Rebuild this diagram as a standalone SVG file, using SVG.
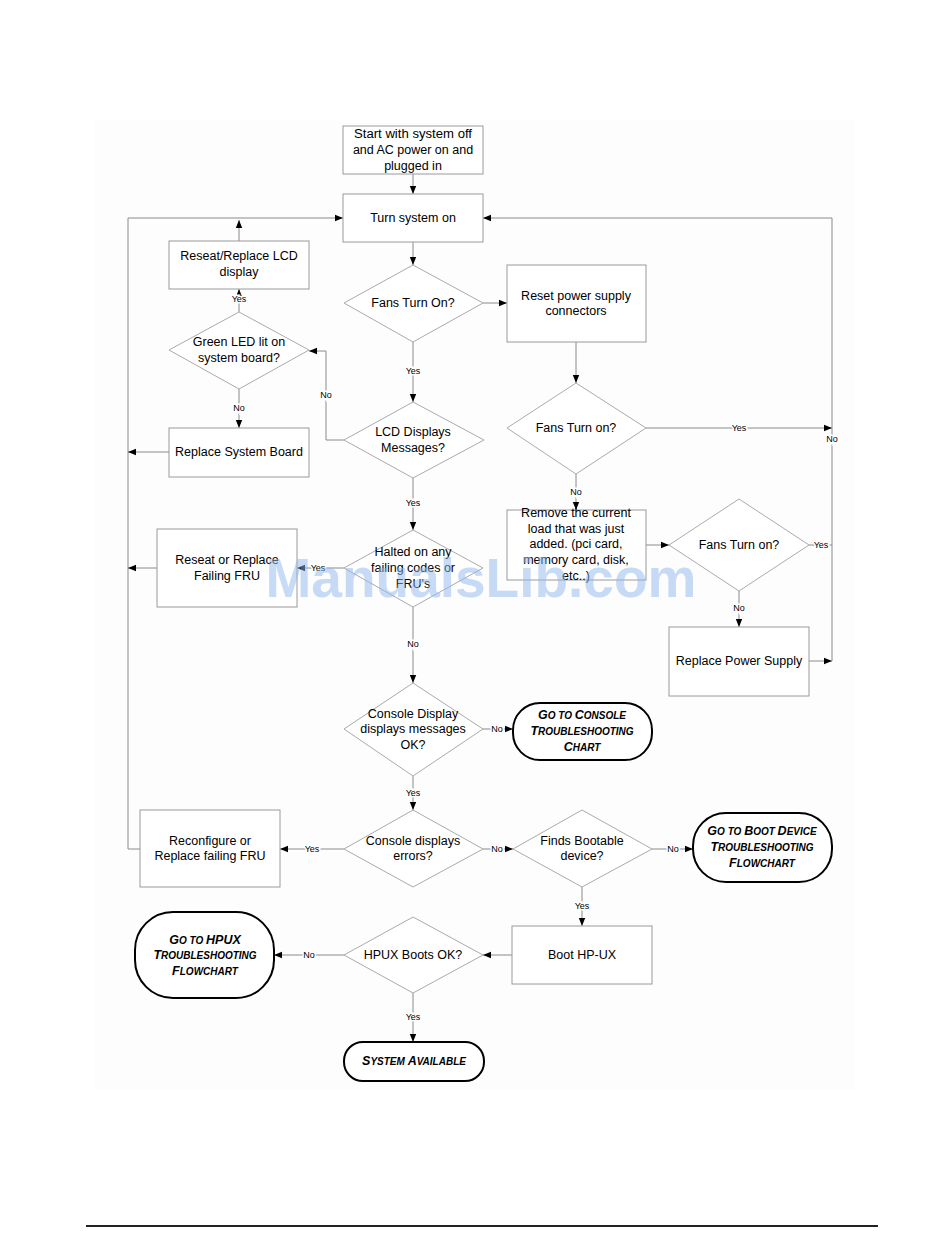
<svg xmlns="http://www.w3.org/2000/svg" width="950" height="1260" viewBox="0 0 950 1260">
<style>
.bx{fill:#fff;stroke:#9a9a9a;stroke-width:1}
.dm{fill:#fff;stroke:#aaaaaa;stroke-width:1}
.tm{fill:#fff;stroke:#000;stroke-width:2}
.t{font-family:"Liberation Sans",Arial,sans-serif;font-size:12.5px;fill:#000;text-anchor:middle}
.tt{font-family:"Liberation Sans",Arial,sans-serif;font-size:12.5px;font-weight:bold;font-style:italic;fill:#000;text-anchor:middle}
.s{font-size:10px}
.c{fill:none;stroke:#8a8a8a;stroke-width:1}
.l{font-family:"Liberation Sans",Arial,sans-serif;font-size:9px;fill:#000;text-anchor:middle;stroke:#fff;stroke-width:3;paint-order:stroke}
.wm{font-family:"Liberation Sans",Arial,sans-serif;font-size:55px;font-weight:bold;fill:#8fb8ee;fill-opacity:0.5;text-anchor:middle}
</style>
<defs>
<marker id="a" viewBox="0 0 10 10" refX="10" refY="5" markerWidth="8" markerHeight="8" orient="auto" markerUnits="userSpaceOnUse"><path d="M0,1 L10,5 L0,9 z" fill="#000"/></marker>
</defs>
<rect x="0" y="0" width="950" height="1260" fill="#fff"/>
<rect x="95" y="120" width="760" height="970" fill="#fdfdfd"/>

<g id="connectors">
<path class="c" d="M413,174 V194" marker-end="url(#a)"/>
<path class="c" d="M413,242 V265" marker-end="url(#a)"/>
<path class="c" d="M483,303 H507" marker-end="url(#a)"/>
<path class="c" d="M576,342 V383" marker-end="url(#a)"/>
<path class="c" d="M646,428 H832" marker-end="url(#a)"/>
<path class="c" d="M576,474 V510" marker-end="url(#a)"/>
<path class="c" d="M646,545 H669" marker-end="url(#a)"/>
<path class="c" d="M809,545 H832"/>
<path class="c" d="M739,591 V627" marker-end="url(#a)"/>
<path class="c" d="M809,661 H832" marker-end="url(#a)"/>
<path class="c" d="M832,661 V218 H483" marker-end="url(#a)"/>
<path class="c" d="M413,342 V402" marker-end="url(#a)"/>
<path class="c" d="M344,440 H326 V351 H309" marker-end="url(#a)"/>
<path class="c" d="M239,312 V289" marker-end="url(#a)"/>
<path class="c" d="M239,389 V428" marker-end="url(#a)"/>
<path class="c" d="M239,241 V220" marker-end="url(#a)"/>
<path class="c" d="M140,849 H128 V218 H343" marker-end="url(#a)"/>
<path class="c" d="M169,452 H128" marker-end="url(#a)"/>
<path class="c" d="M413,478 V530" marker-end="url(#a)"/>
<path class="c" d="M344,568 H297" marker-end="url(#a)"/>
<path class="c" d="M157,568 H128" marker-end="url(#a)"/>
<path class="c" d="M413,607 V683" marker-end="url(#a)"/>
<path class="c" d="M483,729 H513" marker-end="url(#a)"/>
<path class="c" d="M413,776 V810" marker-end="url(#a)"/>
<path class="c" d="M344,849 H280" marker-end="url(#a)"/>
<path class="c" d="M483,849 H513" marker-end="url(#a)"/>
<path class="c" d="M652,849 H693" marker-end="url(#a)"/>
<path class="c" d="M582,887 V926" marker-end="url(#a)"/>
<path class="c" d="M512,955 H483" marker-end="url(#a)"/>
<path class="c" d="M344,955 H274" marker-end="url(#a)"/>
<path class="c" d="M413,993 V1042" marker-end="url(#a)"/>
<text class="l" x="739" y="431">Yes</text>
<text class="l" x="832" y="442">No</text>
<text class="l" x="576" y="495">No</text>
<text class="l" x="821" y="548">Yes</text>
<text class="l" x="739" y="611">No</text>
<text class="l" x="413" y="374">Yes</text>
<text class="l" x="326" y="398">No</text>
<text class="l" x="239" y="302">Yes</text>
<text class="l" x="239" y="411">No</text>
<text class="l" x="413" y="506">Yes</text>
<text class="l" x="318" y="571">Yes</text>
<text class="l" x="413" y="647">No</text>
<text class="l" x="497" y="732">No</text>
<text class="l" x="413" y="796">Yes</text>
<text class="l" x="312" y="852">Yes</text>
<text class="l" x="497" y="852">No</text>
<text class="l" x="673" y="852">No</text>
<text class="l" x="582" y="909">Yes</text>
<text class="l" x="309" y="958">No</text>
<text class="l" x="413" y="1020">Yes</text>
</g>

<g id="start"><rect class="bx" x="343" y="126" width="140" height="48"/>
<text class="t" x="413" y="138" textLength="118" lengthAdjust="spacingAndGlyphs">Start with system off</text><text class="t" x="413" y="154">and AC power on and</text><text class="t" x="413" y="170">plugged in</text></g>
<g id="turn-on"><rect class="bx" x="343" y="194" width="140" height="48"/><text class="t" x="413" y="222">Turn system on</text></g>
<g id="fans1"><polygon class="dm" points="413,265 483,303 413,342 344,303"/><text class="t" x="413" y="307">Fans Turn On?</text></g>
<g id="reset-psu"><rect class="bx" x="507" y="265" width="139" height="77"/><text class="t" x="576" y="300">Reset power supply</text><text class="t" x="576" y="315">connectors</text></g>
<g id="fans2"><polygon class="dm" points="576,383 646,428 576,474 507,428"/><text class="t" x="576" y="432">Fans Turn on?</text></g>
<g id="remove-load"><rect class="bx" x="507" y="510" width="139" height="70"/>
<text class="t" x="576" y="517">Remove the current</text><text class="t" x="576" y="533">load that was just</text><text class="t" x="576" y="548">added. (pci card,</text><text class="t" x="576" y="564">memory card, disk,</text><text class="t" x="576" y="580">etc..)</text></g>
<g id="fans3"><polygon class="dm" points="739,499 809,545 739,591 669,545"/><text class="t" x="739" y="549">Fans Turn on?</text></g>
<g id="replace-psu"><rect class="bx" x="669" y="627" width="140" height="69"/><text class="t" x="739" y="665">Replace Power Supply</text></g>
<g id="reseat-lcd"><rect class="bx" x="169" y="241" width="140" height="48"/><text class="t" x="239" y="260">Reseat/Replace LCD</text><text class="t" x="239" y="276">display</text></g>
<g id="green-led"><polygon class="dm" points="239,312 309,350 239,389 169,350"/><text class="t" x="239" y="346">Green LED lit on</text><text class="t" x="239" y="362">system board?</text></g>
<g id="replace-board"><rect class="bx" x="169" y="428" width="140" height="49"/><text class="t" x="239" y="456">Replace System Board</text></g>
<g id="lcd-msg"><polygon class="dm" points="413,402 484,440 413,478 344,440"/><text class="t" x="413" y="436">LCD Displays</text><text class="t" x="413" y="452">Messages?</text></g>
<g id="halted"><polygon class="dm" points="413,530 483,568 413,607 344,568"/><text class="t" x="413" y="556">Halted on any</text><text class="t" x="413" y="572">failing codes or</text><text class="t" x="413" y="588">FRU's</text></g>
<g id="reseat-fru"><rect class="bx" x="157" y="529" width="140" height="78"/><text class="t" x="227" y="564">Reseat or Replace</text><text class="t" x="227" y="580">Failing FRU</text></g>
<g id="console-ok"><polygon class="dm" points="413,683 483,729 413,776 344,729"/><text class="t" x="413" y="718">Console Display</text><text class="t" x="413" y="733">displays messages</text><text class="t" x="413" y="749">OK?</text></g>
<g id="goto-console"><rect class="tm" x="513" y="703" width="139" height="57" rx="27"/>
<text class="tt" x="582" y="719">G<tspan class="s">O TO </tspan>C<tspan class="s">ONSOLE</tspan></text>
<text class="tt" x="582" y="735">T<tspan class="s">ROUBLESHOOTING</tspan></text>
<text class="tt" x="582" y="751">C<tspan class="s">HART</tspan></text></g>
<g id="console-err"><polygon class="dm" points="413,810 483,849 413,887 344,849"/><text class="t" x="413" y="845">Console displays</text><text class="t" x="413" y="860">errors?</text></g>
<g id="reconfigure"><rect class="bx" x="140" y="810" width="140" height="77"/><text class="t" x="210" y="845">Reconfigure or</text><text class="t" x="210" y="860">Replace failing FRU</text></g>
<g id="finds-boot"><polygon class="dm" points="582,810 652,849 582,887 513,849"/><text class="t" x="582" y="845">Finds Bootable</text><text class="t" x="582" y="860">device?</text></g>
<g id="goto-boot"><rect class="tm" x="693" y="813" width="139" height="69" rx="33"/>
<text class="tt" x="762" y="835">G<tspan class="s">O TO </tspan>B<tspan class="s">OOT </tspan>D<tspan class="s">EVICE</tspan></text>
<text class="tt" x="762" y="851">T<tspan class="s">ROUBLESHOOTING</tspan></text>
<text class="tt" x="762" y="867">F<tspan class="s">LOWCHART</tspan></text></g>
<g id="boot-hpux"><rect class="bx" x="512" y="926" width="140" height="58"/><text class="t" x="582" y="959">Boot HP-UX</text></g>
<g id="hpux-ok"><polygon class="dm" points="413,917 483,955 413,993 344,955"/><text class="t" x="413" y="959">HPUX Boots OK?</text></g>
<g id="goto-hpux"><rect class="tm" x="135" y="912" width="139" height="86" rx="38"/>
<text class="tt" x="205" y="944">G<tspan class="s">O TO </tspan>HPUX</text>
<text class="tt" x="205" y="959">T<tspan class="s">ROUBLESHOOTING</tspan></text>
<text class="tt" x="205" y="975">F<tspan class="s">LOWCHART</tspan></text></g>
<g id="available"><rect class="tm" x="344" y="1042" width="140" height="39" rx="19"/>
<text class="tt" x="414" y="1065">S<tspan class="s">YSTEM </tspan>A<tspan class="s">VAILABLE</tspan></text></g>

<line x1="86" y1="1226" x2="878" y2="1226" stroke="#222" stroke-width="2"/>
<text class="wm" x="481" y="597">ManualsLib.com</text>
</svg>
